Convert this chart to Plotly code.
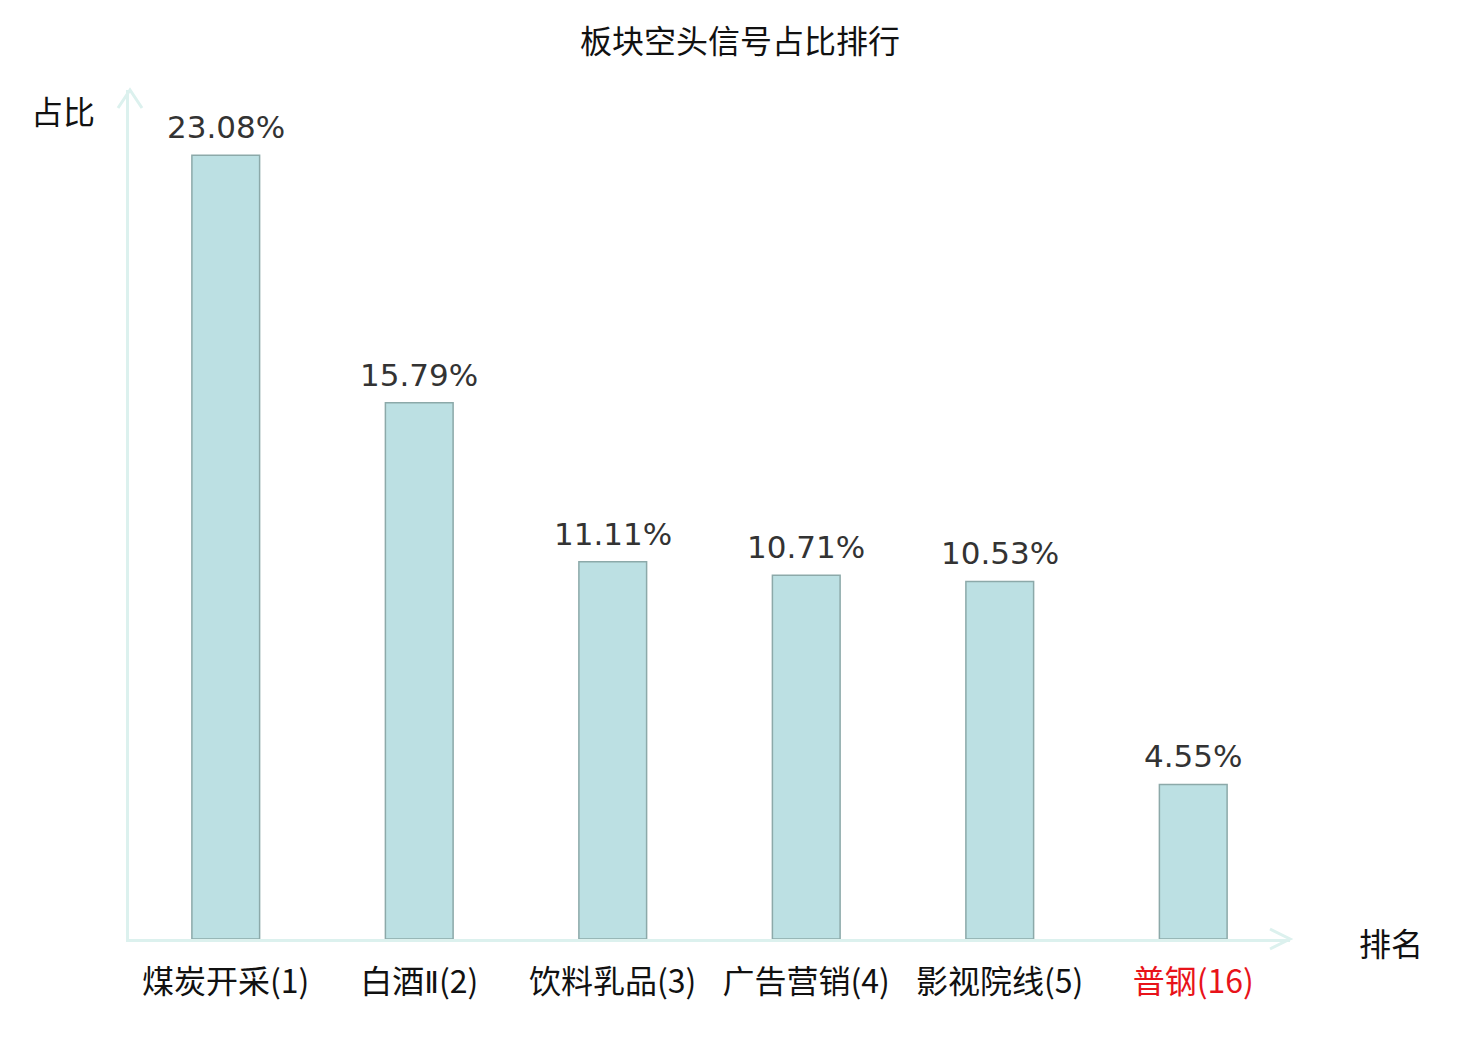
import plotly.graph_objects as go

# data
sectors = ["煤炭开采(1)", "白酒Ⅱ(2)", "饮料乳品(3)", "广告营销(4)", "影视院线(5)", "普钢(16)"]
ratios = [23.08, 15.79, 11.11, 10.71, 10.53, 4.55]
highlight = "普钢(16)"

tick_text = []
for s in sectors:
    # narrow roman numeral like the original
    s2 = s.replace("Ⅱ", "<span style='font-family:DejaVu Sans;font-size:30px'>Ⅱ</span>")
    if s == highlight:
        tick_text.append("<span style='color:#e8131a'>" + s2 + "</span>")
    else:
        tick_text.append(s2)

cjk = "Noto Sans CJK SC"
axis_col = "#dcf1ee"

# page has an 8px body margin, so everything is placed 8px up/left
W, H = 1480, 1040
off = 8
ml, mr, mt, mb = 129 - off, W - 1290 + off, 90 - off, H - 939 + off
pw = W - ml - mr
ph = H - mt - mb


def px_x(p):
    return (p - off - ml) / pw


def px_y(p):
    return (H - mb - (p - off)) / ph


fig = go.Figure()
fig.add_trace(go.Bar(
    x=sectors,
    y=ratios,
    width=0.35,
    marker=dict(color="#bce0e3", line=dict(color="#8ca9a9", width=1.5)),
    hoverinfo="x+y",
))

# value labels above bars
annotations = []
for s, v in zip(sectors, ratios):
    annotations.append(dict(
        x=s, y=v, xref="x", yref="y", text="%.2f%%" % v,
        showarrow=False, xanchor="center", yanchor="bottom", yshift=8,
        font=dict(family="DejaVu Sans", size=31, color="#333333"),
    ))

annotations.append(dict(text="占比", xref="paper", yref="paper", x=px_x(63), y=px_y(110),
                        xanchor="center", yanchor="middle", showarrow=False,
                        font=dict(family=cjk, size=32, color="#111111")))
annotations.append(dict(text="排名", xref="paper", yref="paper", x=px_x(1391), y=px_y(942),
                        xanchor="center", yanchor="middle", showarrow=False,
                        font=dict(family=cjk, size=32, color="#111111")))

# arrow heads (open chevrons)
shapes = [
    dict(type="path", xref="paper", yref="paper",
         path="M {} {} L {} {} L {} {}".format(px_x(118), px_y(108), px_x(130), px_y(90), px_x(142), px_y(108)),
         line=dict(color=axis_col, width=3)),
    dict(type="path", xref="paper", yref="paper",
         path="M {} {} L {} {} L {} {}".format(px_x(1270), px_y(929), px_x(1290), px_y(939), px_x(1270), px_y(949)),
         line=dict(color=axis_col, width=3)),
]

fig.update_layout(
    width=W, height=H,
    margin=dict(l=ml, r=mr, t=mt, b=mb),
    plot_bgcolor="white", paper_bgcolor="white",
    showlegend=False,
    title=dict(text="板块空头信号占比排行", x=(740 - off) / W, xanchor="center",
               y=1 - (42 - off) / H, yanchor="middle",
               font=dict(family=cjk, size=32, color="#111111")),
    xaxis=dict(tickmode="array", tickvals=sectors, ticktext=tick_text,
               range=[-0.5, 5.5], showline=True, linecolor=axis_col, linewidth=3,
               showgrid=False, ticks="", ticklabelstandoff=13,
               tickfont=dict(family=cjk, size=32, color="#111111")),
    yaxis=dict(range=[0, 25], showline=True, linecolor=axis_col, linewidth=3,
               showgrid=False, zeroline=False, showticklabels=False, ticks=""),
    shapes=shapes,
    annotations=annotations,
)

fig.write_html("out.html")
